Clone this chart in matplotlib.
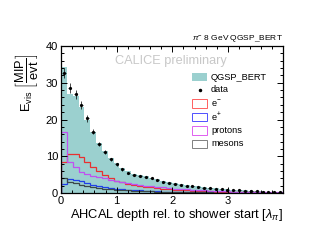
import numpy as np
import matplotlib
matplotlib.use("Agg")
import matplotlib.pyplot as plt
from matplotlib.patches import Rectangle
from matplotlib.lines import Line2D
from matplotlib.ticker import MultipleLocator

plt.rcParams['font.family'] = ['Liberation Sans', 'DejaVu Sans']
plt.rcParams['mathtext.fontset'] = 'custom'
plt.rcParams['mathtext.rm'] = 'Liberation Sans'
plt.rcParams['mathtext.it'] = 'Liberation Sans:italic'

# bin edges in lambda_pi (38 layers)
bin_width = 0.105
n_bins = 38

data_vals = [32.7, 28.5, 26.9, 23.9, 20.3, 16.7, 13.3, 11.1, 9.2, 7.8,
             6.4, 5.5, 5.0, 4.6, 4.3, 4.0, 3.6, 3.1, 2.7, 2.4,
             2.2, 2.0, 1.8, 1.6, 1.45, 1.3, 1.15, 1.0, 0.9, 0.8,
             0.7, 0.6, 0.5, 0.45, 0.4, 0.35, 0.3, 0.25]
data_err = [1.4, 1.3, 1.2, 1.0, 0.9, 0.7, 0.6, 0.5, 0.4, 0.35,
            0.3, 0.25, 0.22, 0.2, 0.2, 0.18, 0.16, 0.15, 0.13, 0.12,
            0.11, 0.1, 0.1, 0.09, 0.08, 0.08, 0.07, 0.06, 0.06, 0.05,
            0.05, 0.05, 0.04, 0.04, 0.04, 0.03, 0.03, 0.03]
mc_vals = [34.2, 27.0, 26.5, 23.5, 20.0, 16.5, 13.5, 11.5, 9.6, 8.1,
           6.8, 5.9, 5.3, 4.9, 4.5, 4.2, 3.8, 3.4, 3.0, 2.7,
           2.45, 2.2, 2.0, 1.8, 1.6, 1.45, 1.3, 1.15, 1.0, 0.9,
           0.8, 0.7, 0.6, 0.52, 0.46, 0.4, 0.34, 0.28]
electron_vals = [8.5, 10.5, 10.5, 9.9, 8.4, 7.0, 5.9, 4.8, 4.0, 3.4,
                 2.9, 2.5, 2.2, 1.9, 1.7, 1.5, 1.3, 1.15, 1.0, 0.9,
                 0.8, 0.7, 0.62, 0.55, 0.5, 0.45, 0.4, 0.35, 0.3, 0.28,
                 0.25, 0.22, 0.2, 0.18, 0.15, 0.13, 0.12, 0.1]
positron_vals = [2.5, 3.7, 3.6, 3.3, 2.7, 2.2, 1.8, 1.6, 1.4, 1.2,
                 1.05, 0.9, 0.8, 0.7, 0.6, 0.52, 0.46, 0.4, 0.35, 0.3,
                 0.27, 0.24, 0.21, 0.18, 0.16, 0.14, 0.12, 0.1, 0.09, 0.08,
                 0.07, 0.06, 0.05, 0.05, 0.04, 0.04, 0.03, 0.03]
proton_vals = [16.5, 8.3, 7.0, 5.8, 5.3, 4.6, 4.3, 4.0, 3.6, 3.2,
               2.9, 2.6, 2.4, 2.2, 2.0, 1.8, 1.7, 1.5, 1.35, 1.2,
               1.1, 1.0, 0.9, 0.8, 0.72, 0.65, 0.58, 0.5, 0.45, 0.4,
               0.36, 0.32, 0.28, 0.25, 0.22, 0.2, 0.17, 0.15]
meson_vals = [4.2, 3.0, 2.6, 2.3, 2.0, 1.7, 1.4, 1.2, 1.0, 0.9,
              0.8, 0.7, 0.6, 0.55, 0.5, 0.45, 0.4, 0.36, 0.32, 0.28,
              0.25, 0.22, 0.2, 0.18, 0.16, 0.14, 0.12, 0.11, 0.1, 0.09,
              0.08, 0.07, 0.06, 0.05, 0.05, 0.04, 0.04, 0.03]

edges = np.arange(n_bins + 1) * bin_width
centers = 0.5 * (edges[:-1] + edges[1:])

W, H = 318, 246
fig = plt.figure(figsize=(W / 100, H / 100), dpi=100)
ax = fig.add_axes([61 / W, 1 - 193 / H, (283 - 61) / W, (193 - 46) / H])

teal = '#9bd0cf'
ax.stairs(mc_vals, edges, fill=True, color=teal, lw=0)
ax.stairs(electron_vals, edges, color='#e83030', lw=0.9)
ax.stairs(positron_vals, edges, color='#2040e8', lw=0.9)
ax.stairs(proton_vals, edges, color='#c050f0', lw=0.9)
ax.stairs(meson_vals, edges, color='#3c4848', lw=0.9)
ax.errorbar(centers, data_vals, yerr=data_err, xerr=0.03, fmt='o', ms=1.3,
            color='black', ecolor='black', elinewidth=0.5, capsize=0)

ax.set_xlim(0, 3.99)
ax.set_ylim(0, 40)
ax.xaxis.set_major_locator(MultipleLocator(1))
ax.xaxis.set_minor_locator(MultipleLocator(0.2))
ax.yaxis.set_major_locator(MultipleLocator(10))
ax.yaxis.set_minor_locator(MultipleLocator(2))
ax.tick_params(which='both', direction='in', top=True, right=True,
               labelsize=8, width=0.7, pad=2)
ax.tick_params(which='major', length=4)
ax.tick_params(which='minor', length=2)
for s in ax.spines.values():
    s.set_linewidth(0.9)

ax.set_xlabel(r'AHCAL depth rel. to shower start [$\lambda_{\pi}$]',
              fontsize=9.3, labelpad=1, loc='right')
ax.set_ylabel(r'E$_{\mathrm{vis}}$ $\left[\dfrac{\mathrm{MIP}}{\mathrm{evt}}\right]$',
              fontsize=9.3, loc='top')
ax.yaxis.set_label_coords(-27 / 222 - 0.02, 1 - 7 / 147, transform=None) if False else None
ax.yaxis.label.set_position((0, 1 - 7 / 147))
ax.yaxis.labelpad = 4

fig.text(283 / W, 1 - 40 / H, r'$\pi^{-}$ 8 GeV QGSP_BERT', ha='right',
         va='baseline', fontsize=6.0)
fig.text(115 / W, 1 - 64 / H, 'CALICE preliminary', ha='left',
         va='baseline', fontsize=9.2, color='#c8c8c8')

# legend
entries = [('QGSP_BERT', 'fill', teal), ('data', 'dot', 'black'),
           ('e$^{-}$', 'box', '#ff6060'), ('e$^{+}$', 'box', '#5050ff'),
           ('protons', 'box', '#e060f0'), ('mesons', 'box', '#808080')]
ys = [77, 90, 103.5, 117, 130.5, 144]
for (lab, kind, col), yc in zip(entries, ys):
    x0, x1 = 192, 207
    h = 8.5
    if kind == 'fill':
        fig.patches.append(Rectangle((x0 / W, 1 - (yc + h / 2) / H),
                                     (x1 - x0) / W, h / H,
                                     transform=fig.transFigure,
                                     facecolor=col, edgecolor='none'))
    elif kind == 'box':
        fig.patches.append(Rectangle((x0 / W, 1 - (yc + h / 2) / H),
                                     (x1 - x0) / W, h / H,
                                     transform=fig.transFigure,
                                     facecolor='none', edgecolor=col, lw=0.7))
    else:
        fig.lines.append(Line2D([(x0 + x1) / 2 / W], [1 - yc / H], marker='o',
                                ms=1.5, color='black',
                                transform=fig.transFigure))
    fig.text(211 / W, 1 - yc / H, lab, ha='left', va='center', fontsize=6.7)

fig.savefig('out.png', dpi=100)
